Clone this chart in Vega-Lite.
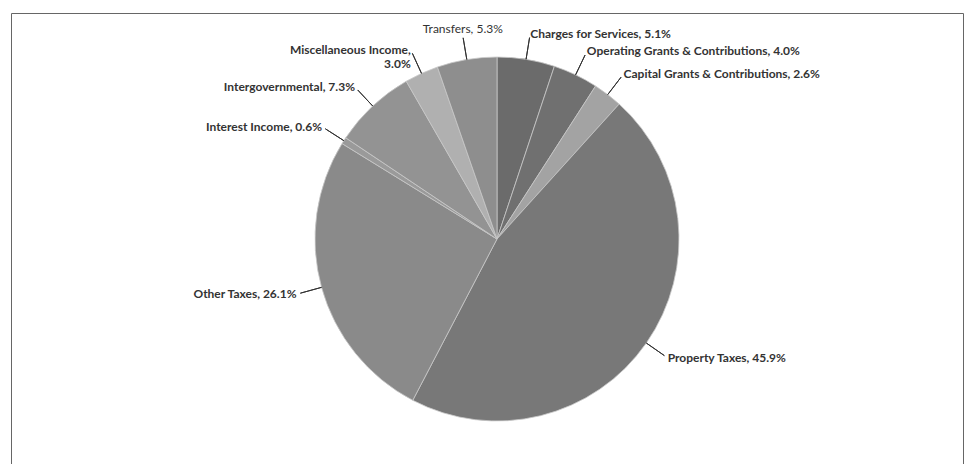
{
  "$schema": "https://vega.github.io/schema/vega-lite/v6.json",
  "width": 952,
  "height": 452,
  "autosize": "none",
  "padding": {"left": 11, "top": 13, "right": 10, "bottom": 0},
  "background": "white",
  "view": {"stroke": "#666666", "strokeWidth": 1},
  "config": {"view": {"stroke": "#666666", "strokeWidth": 1}},
  "data": {
    "values": [
      {"category": "Charges for Services", "value": 5.1, "label": "Charges for Services, 5.1%"},
      {"category": "Operating Grants & Contributions", "value": 4.0, "label": "Operating Grants & Contributions, 4.0%"},
      {"category": "Capital Grants & Contributions", "value": 2.6, "label": "Capital Grants & Contributions, 2.6%"},
      {"category": "Property Taxes", "value": 45.9, "label": "Property Taxes, 45.9%"},
      {"category": "Other Taxes", "value": 26.1, "label": "Other Taxes, 26.1%"},
      {"category": "Interest Income", "value": 0.6, "label": "Interest Income, 0.6%"},
      {"category": "Intergovernmental", "value": 7.3, "label": "Intergovernmental, 7.3%"},
      {"category": "Miscellaneous Income", "value": 3.0, "label": "Miscellaneous Income,\n3.0%"},
      {"category": "Transfers", "value": 5.3, "label": "Transfers, 5.3%"}
    ]
  },
  "transform": [
    {"window": [{"op": "row_number", "as": "idx"}]},
    {"window": [{"op": "sum", "field": "value", "as": "cum"}], "sort": [{"field": "idx"}], "frame": [null, 0]},
    {"calculate": "datum.cum - datum.value / 2", "as": "mid"}
  ],
  "layer": [
    {
      "mark": {"type": "arc", "radius": 182, "stroke": "#c8c8c8", "strokeWidth": 0.8, "xOffset": 10},
      "encoding": {
        "theta": {"field": "value", "type": "quantitative", "stack": true, "scale": {"domain": [0, 99.9]}},
        "order": {"field": "idx", "type": "quantitative"},
        "color": {
          "field": "category",
          "type": "nominal",
          "legend": null,
          "scale": {
            "domain": ["Charges for Services", "Operating Grants & Contributions", "Capital Grants & Contributions", "Property Taxes", "Other Taxes", "Interest Income", "Intergovernmental", "Miscellaneous Income", "Transfers"],
            "range": ["#6b6b6b", "#707070", "#a3a3a3", "#787878", "#8a8a8a", "#9a9a9a", "#939393", "#b0b0b0", "#8e8e8e"]
          }
        }
      }
    },
    {
      "mark": {"type": "arc", "radius": 204, "radius2": 182, "filled": false, "stroke": "#333333", "strokeWidth": 1, "xOffset": 10},
      "encoding": {
        "theta": {"field": "mid", "type": "quantitative", "stack": null},
        "theta2": {"field": "mid"}
      }
    },
    {
      "transform": [{"filter": {"field": "category", "oneOf": ["Charges for Services", "Operating Grants & Contributions", "Capital Grants & Contributions", "Property Taxes"]}}],
      "mark": {"type": "text", "radius": 208, "align": "left", "baseline": "middle", "font": "Lato", "fontSize": 12, "fontWeight": "bold", "color": "#333333", "xOffset": 10, "lineBreak": "\n"},
      "encoding": {
        "theta": {"field": "mid", "type": "quantitative", "stack": null},
        "text": {"field": "label", "type": "nominal"}
      }
    },
    {
      "transform": [{"filter": {"field": "category", "oneOf": ["Other Taxes", "Interest Income", "Intergovernmental", "Miscellaneous Income"]}}],
      "mark": {"type": "text", "radius": 208, "align": "right", "baseline": "middle", "font": "Lato", "fontSize": 12, "fontWeight": "bold", "color": "#333333", "xOffset": 10, "lineBreak": "\n"},
      "encoding": {
        "theta": {"field": "mid", "type": "quantitative", "stack": null},
        "text": {"field": "label", "type": "nominal"}
      }
    },
    {
      "transform": [{"filter": {"field": "category", "equal": "Transfers"}}],
      "mark": {"type": "text", "radius": 206, "align": "center", "baseline": "bottom", "font": "Lato", "fontSize": 12, "fontWeight": "normal", "color": "#333333", "xOffset": 10, "lineBreak": "\n"},
      "encoding": {
        "theta": {"field": "mid", "type": "quantitative", "stack": null},
        "text": {"field": "label", "type": "nominal"}
      }
    }
  ]
}
